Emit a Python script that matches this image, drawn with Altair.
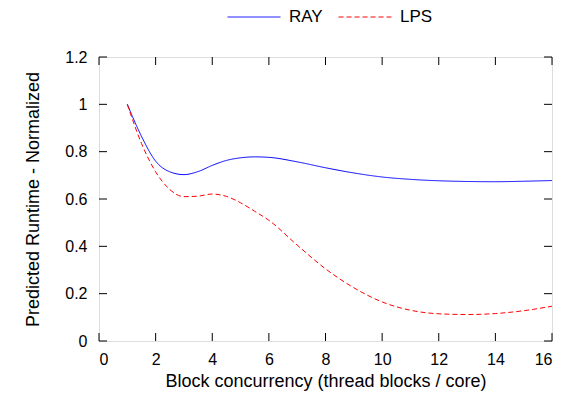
import altair as alt
import pandas as pd

x_vals = [1, 1.5, 2, 2.5, 3, 3.5, 4, 4.5, 5, 5.5, 6, 7, 8, 9, 10, 11, 12, 13, 14, 15, 16]
ray = [1.0, 0.865, 0.76, 0.715, 0.703, 0.716, 0.742, 0.763, 0.774, 0.778, 0.776, 0.757, 0.732, 0.71, 0.693, 0.683, 0.677, 0.674, 0.673, 0.675, 0.678]
lps = [1.0, 0.835, 0.715, 0.64, 0.61, 0.612, 0.621, 0.611, 0.584, 0.548, 0.51, 0.405, 0.305, 0.225, 0.165, 0.13, 0.115, 0.112, 0.116, 0.128, 0.147]
series = ["RAY", "LPS"]
colors = ["#0000ff", "#ff0000"]
x_ticks = [0, 2, 4, 6, 8, 10, 12, 14, 16]
y_ticks = [0, 0.2, 0.4, 0.6, 0.8, 1.0, 1.2]

W, H = 453, 284
FONT = "Liberation Sans"

df = pd.concat([
    pd.DataFrame({"x": x_vals, "y": ray, "series": "RAY", "k": 0}),
    pd.DataFrame({"x": x_vals, "y": lps, "series": "LPS", "k": 1}),
])

xs = alt.Scale(domain=[0, 16], nice=False, zero=False)
ys = alt.Scale(domain=[0, 1.2], nice=False, zero=False)

leg = dict(title=None, orient="none", legendX=128, legendY=-67,
           direction="horizontal", symbolType="stroke",
           symbolSize=2800, symbolStrokeWidth=1,
           labelFontSize=17, labelFont=FONT, labelColor="#000",
           labelOffset=8, columnPadding=13)

lines = alt.Chart(df).mark_line(strokeWidth=1, interpolate="monotone").encode(
    x=alt.X("x:Q", scale=xs, axis=alt.Axis(
        values=x_ticks, title="Block concurrency (thread blocks / core)",
        ticks=False, domain=False, grid=False, labelPadding=10, titlePadding=5,
        labelFontSize=16, titleFontSize=18, labelFont=FONT, titleFont=FONT,
        labelColor="#000", titleColor="#000", titleFontWeight="normal")),
    y=alt.Y("y:Q", scale=ys, axis=alt.Axis(
        values=y_ticks, format="~g", title="Predicted Runtime - Normalized",
        ticks=False, domain=False, grid=False, labelPadding=12, titlePadding=22,
        labelFontSize=16, titleFontSize=18, labelFont=FONT, titleFont=FONT,
        labelColor="#000", titleColor="#000", titleFontWeight="normal")),
    color=alt.Color("series:N", scale=alt.Scale(domain=series, range=colors),
                    legend=alt.Legend(**leg)),
    strokeDash=alt.StrokeDash("series:N", scale=alt.Scale(domain=series, range=[[1, 0], [5, 3]]),
                              legend=alt.Legend(**leg)),
    order="k:Q",
)

xt = pd.DataFrame({"v": x_ticks})
yt = pd.DataFrame({"v": y_ticks})
TL = 8
tb = alt.Chart(xt).mark_rule(color="#000", strokeWidth=1).encode(x=alt.X("v:Q", scale=xs), y=alt.value(H), y2=alt.value(H - TL))
tt = alt.Chart(xt).mark_rule(color="#000", strokeWidth=1).encode(x=alt.X("v:Q", scale=xs), y=alt.value(0), y2=alt.value(TL))
tl = alt.Chart(yt).mark_rule(color="#000", strokeWidth=1).encode(y=alt.Y("v:Q", scale=ys), x=alt.value(0), x2=alt.value(TL))
tr = alt.Chart(yt).mark_rule(color="#000", strokeWidth=1).encode(y=alt.Y("v:Q", scale=ys), x=alt.value(W), x2=alt.value(W - TL))

chart = alt.layer(tb, tt, tl, tr, lines).properties(
    width=W, height=H,
    autosize=alt.AutoSizeParams(type="none"),
    padding={"left": 91, "top": 49, "right": 14, "bottom": 54},
).configure_view(stroke="#000", strokeWidth=1.3).configure(background="white")

chart.save("out.html", embed_options={"renderer": "svg", "actions": False})
